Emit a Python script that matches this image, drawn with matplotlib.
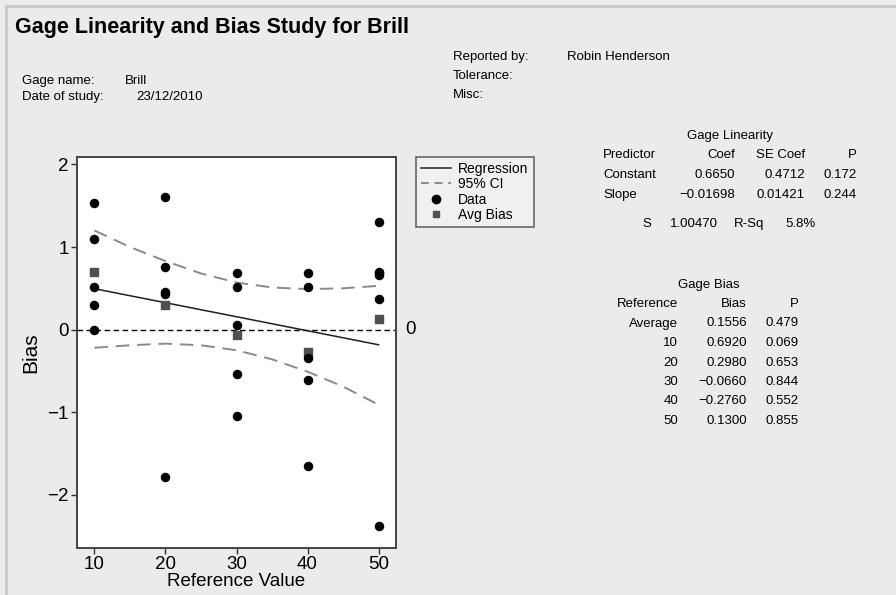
import matplotlib.pyplot as plt
from matplotlib.patches import Rectangle
from matplotlib.lines import Line2D
import matplotlib.transforms as mtransforms

plt.rcParams['font.family'] = ['Liberation Sans', 'DejaVu Sans']

# data
data_ref = [10, 10, 10, 10, 10,
            20, 20, 20, 20, 20,
            30, 30, 30, 30, 30,
            40, 40, 40, 40, 40,
            50, 50, 50, 50, 50, 50]
data_bias = [1.53, 1.10, 0.51, 0.30, 0.00,
             1.61, 0.76, 0.46, 0.43, -1.78,
             0.69, 0.51, 0.05, -0.54, -1.05,
             0.69, 0.51, -0.34, -0.61, -1.65,
             1.30, 0.69, 0.66, 0.37, -2.38, 0.70]

avg_ref = [10, 20, 30, 40, 50]
avg_bias = [0.6920, 0.2980, -0.0660, -0.2760, 0.1300]

coef_const = 0.6650
coef_slope = -0.01698
reg_x = [10, 50]

ci_x = [10, 15, 20, 25, 30, 35, 40, 45, 50]
ci_upper = [1.20, 1.00, 0.83, 0.68, 0.57, 0.51, 0.49, 0.50, 0.53]
ci_lower = [-0.22, -0.19, -0.17, -0.19, -0.25, -0.36, -0.51, -0.69, -0.91]

lin_rows = [["Constant", "0.6650", "0.4712", "0.172"],
            ["Slope", "\u22120.01698", "0.01421", "0.244"]]
bias_refs = ["Average", "10", "20", "30", "40", "50"]
bias_vals = ["0.1556", "0.6920", "0.2980", "\u22120.0660", "\u22120.2760", "0.1300"]
bias_p = ["0.479", "0.069", "0.653", "0.844", "0.552", "0.855"]

W, H = 896, 595
bg = '#ebebeb'
fig = plt.figure(figsize=(W / 100, H / 100), dpi=100, facecolor=bg)

def fx(px):
    return px / W

def fy(py):
    return 1 - py / H

# frame
fig.patches.append(Rectangle((fx(6), -0.1), 1.2, fy(6) + 0.1, transform=fig.transFigure,
                             facecolor='none', edgecolor='#c8c8c8', lw=2))

ax = fig.add_axes([fx(77), fy(548), fx(396) - fx(77), fy(157) - fy(548)])
ax.set_facecolor('white')

ax.axhline(0, color='black', ls=(0, (4, 2.5)), lw=1.0, zorder=1)
reg_y = [coef_const + coef_slope * x for x in reg_x]
ax.plot(reg_x, reg_y, color='#202020', lw=1.1, zorder=2)
ax.plot(ci_x, ci_upper, color='#8a8a8a', lw=1.4, ls=(0, (7, 4)), zorder=2)
ax.plot(ci_x, ci_lower, color='#8a8a8a', lw=1.4, ls=(0, (7, 4)), zorder=2)
ax.scatter(avg_ref, avg_bias, marker='s', s=30, color='#505050', zorder=3)
ax.scatter(data_ref, data_bias, marker='o', s=34, color='black', zorder=4)

ax.set_xlim(7.55, 52.45)
ax.set_ylim(-2.645, 2.09)
ax.set_xticks([10, 20, 30, 40, 50])
ax.set_yticks([-2, -1, 0, 1, 2])
ax.tick_params(labelsize=13.5, length=4, width=1, color='#333333', pad=2)
for s in ax.spines.values():
    s.set_color('#444444')
    s.set_linewidth(1.4)
ax.set_xlabel('Reference Value', fontsize=13.5, labelpad=0)
ax.set_ylabel('Bias', fontsize=15, labelpad=5)

trans = mtransforms.blended_transform_factory(ax.transAxes, ax.transData)
ax.text(1.03, 0, '0', transform=trans, fontsize=13.5, va='center', ha='left')

handles = [Line2D([], [], color='#202020', lw=1.1),
           Line2D([], [], color='#8a8a8a', lw=1.4, ls=(0, (4, 3))),
           Line2D([], [], color='black', marker='o', ls='none', markersize=6),
           Line2D([], [], color='#505050', marker='s', ls='none', markersize=5)]
leg = fig.legend(handles, ['Regression', '95% CI', 'Data', 'Avg Bias'],
                 loc='upper left', bbox_to_anchor=(fx(416), fy(157)),
                 fontsize=10, frameon=True, fancybox=False, handlelength=2.2,
                 handletextpad=0.5, labelspacing=0.1, borderpad=0.35,
                 borderaxespad=0)
leg.get_frame().set_edgecolor('#444444')
leg.get_frame().set_facecolor('#f2f2f2')
leg.get_frame().set_linewidth(1.2)

# header
fig.text(fx(15), fy(27), 'Gage Linearity and Bias Study for Brill', fontsize=15.5,
         fontweight='bold', va='center', ha='left')
hs = 9.5
fig.text(fx(22), fy(81), 'Gage name:', fontsize=hs, va='center')
fig.text(fx(125), fy(81), 'Brill', fontsize=hs, va='center')
fig.text(fx(22), fy(97), 'Date of study:', fontsize=hs, va='center')
fig.text(fx(136), fy(97), '23/12/2010', fontsize=hs, va='center')
fig.text(fx(453), fy(57), 'Reported by:', fontsize=hs, va='center')
fig.text(fx(567), fy(57), 'Robin Henderson', fontsize=hs, va='center')
fig.text(fx(453), fy(76), 'Tolerance:', fontsize=hs, va='center')
fig.text(fx(453), fy(95), 'Misc:', fontsize=hs, va='center')

# gage linearity table
ts = 9.5
fig.text(fx(730), fy(136), 'Gage Linearity', fontsize=ts, ha='center', va='center')
fig.text(fx(603), fy(155), 'Predictor', fontsize=ts, ha='left', va='center')
col_x = [735, 805, 857]
for cx, h in zip(col_x, ['Coef', 'SE Coef', 'P']):
    fig.text(fx(cx), fy(155), h, fontsize=ts, ha='right', va='center')
for i, row in enumerate(lin_rows):
    yy = 175 + i * 20.5
    fig.text(fx(603), fy(yy), row[0], fontsize=ts, ha='left', va='center')
    for cx, v in zip(col_x, row[1:]):
        fig.text(fx(cx), fy(yy), v, fontsize=ts, ha='right', va='center')
for cx, v in zip([647, 694, 749, 801], ['S', '1.00470', 'R-Sq', '5.8%']):
    fig.text(fx(cx), fy(224), v, fontsize=ts, ha='center', va='center')

# gage bias table
fig.text(fx(709), fy(285), 'Gage Bias', fontsize=ts, ha='center', va='center')
for cx, h in zip([678, 747, 799], ['Reference', 'Bias', 'P']):
    fig.text(fx(cx), fy(304), h, fontsize=ts, ha='right', va='center')
for i in range(len(bias_refs)):
    yy = 323.5 + i * 19.5
    fig.text(fx(678), fy(yy), bias_refs[i], fontsize=ts, ha='right', va='center')
    fig.text(fx(747), fy(yy), bias_vals[i], fontsize=ts, ha='right', va='center')
    fig.text(fx(799), fy(yy), bias_p[i], fontsize=ts, ha='right', va='center')

fig.savefig('out.png', dpi=100, facecolor=bg)
